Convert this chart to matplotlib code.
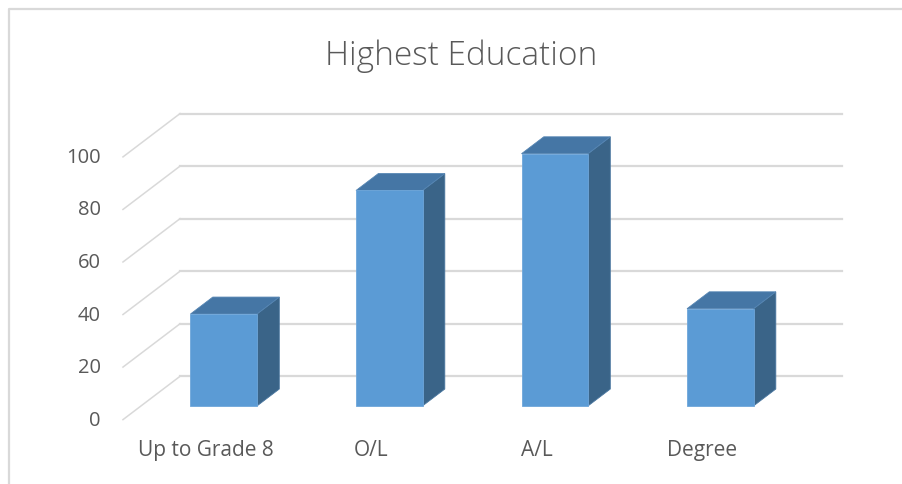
import matplotlib
matplotlib.use("Agg")
import matplotlib.pyplot as plt
from matplotlib.patches import Polygon

categories = ["Up to Grade 8", "O/L", "A/L", "Degree"]
values = [35, 82, 96, 37]
ticks = [0, 20, 40, 60, 80, 100]
title = "Highest Education"

# oblique 3d look: the back wall is shifted by (DX categories, DY value units)
DX = 0.345
DY = 16.5
BAR_W = 0.402
F0, F1 = 0.316, 0.706  # depth of bar front / back face

FRONT = "#5B9BD5"
TOP = "#4576A5"
SIDE = "#3A6488"
GRID = "#D9D9D9"
TEXT = "#595959"

plt.rcParams["font.family"] = ["Open Sans", "DejaVu Sans"]


def main():
    fig = plt.figure(figsize=(9.02, 4.85), dpi=100)
    ax = fig.add_axes([0, 0, 1, 1])
    ax.set_xlim(-0.743, 4.707)
    ax.set_ylim(-24.5, 160.1)
    ax.axis("off")

    # gridlines: diagonal side wall + back wall
    n = len(categories)
    for t in ticks:
        ax.plot([0, DX], [t, t + DY], color=GRID, lw=1.1, zorder=1)
        ax.plot([DX, n + DX], [t + DY, t + DY], color=GRID, lw=1.6, zorder=1)
        ax.text(-0.133, t, str(t), ha="right", va="center",
                fontsize=14.5, color=TEXT)

    for i, v in enumerate(values):
        x0 = i + 0.5 - BAR_W / 2 + F0 * DX
        x1 = x0 + BAR_W
        y0 = F0 * DY
        y1 = v + F0 * DY
        ddx = (F1 - F0) * DX
        ddy = (F1 - F0) * DY
        front = Polygon([(x0, y0), (x1, y0), (x1, y1), (x0, y1)],
                        closed=True, fc=FRONT, ec="#6EA6DA", lw=0.6, zorder=3)
        top = Polygon([(x0, y1), (x1, y1), (x1 + ddx, y1 + ddy), (x0 + ddx, y1 + ddy)],
                      closed=True, fc=TOP, ec="#5585B3", lw=0.6, zorder=3)
        side = Polygon([(x1, y0), (x1 + ddx, y0 + ddy), (x1 + ddx, y1 + ddy), (x1, y1)],
                       closed=True, fc=SIDE, ec="#4A77A0", lw=0.6, zorder=3)
        ax.add_patch(side)
        ax.add_patch(top)
        ax.add_patch(front)
        ax.text(i + 0.5, -11.5, categories[i], ha="center", va="center",
                fontsize=15, color=TEXT)

    ax.text(2.042, 138.5, title, ha="center", va="center",
            fontsize=24, color=TEXT, fontweight="light")

    # chart area border (left and top visible)
    ax.plot([8.5 / 902, 8.5 / 902, 1], [0, 1 - 9.5 / 485, 1 - 9.5 / 485],
            transform=ax.transAxes, color=GRID, lw=1.6, clip_on=False)

    fig.savefig("out.png", dpi=100)


if __name__ == "__main__":
    main()
